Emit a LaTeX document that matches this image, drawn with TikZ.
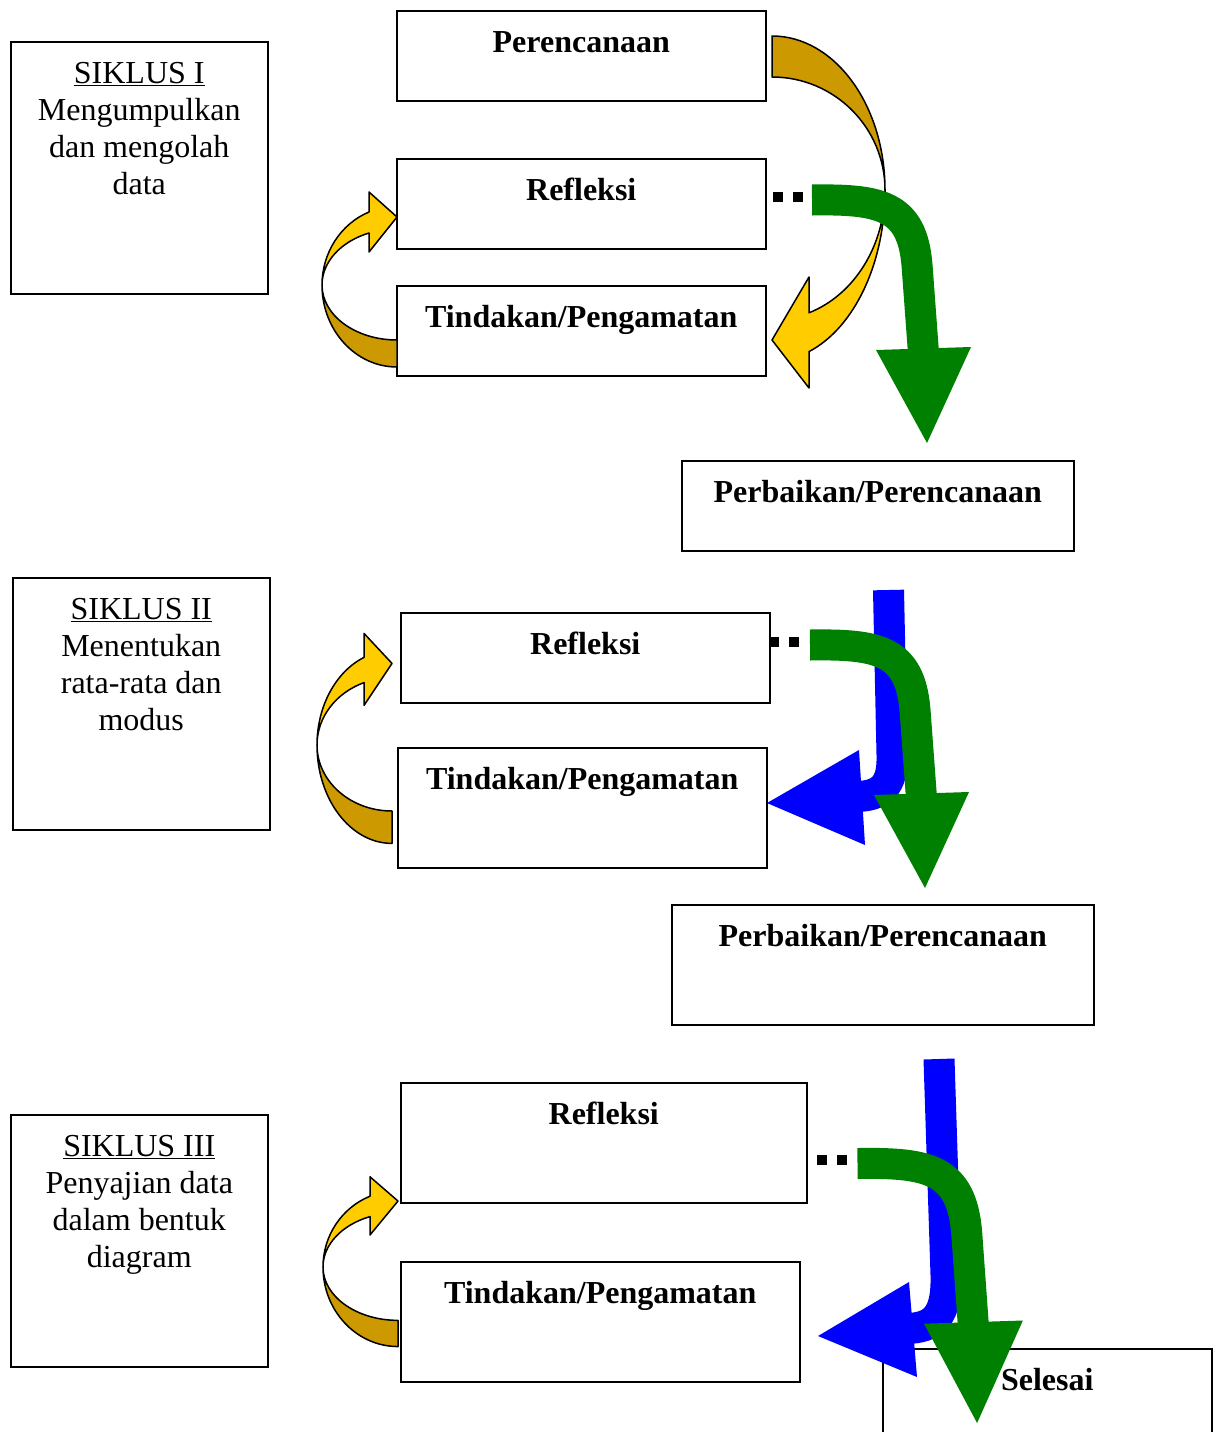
\documentclass[tikz,border=0pt]{standalone}
\usepackage{fontspec}
\setmainfont{Liberation Serif}
\definecolor{gold}{HTML}{CC9900}
\definecolor{sunny}{HTML}{FFCC00}
\definecolor{leaf}{HTML}{008000}
\definecolor{sky}{HTML}{0000FF}
\tikzset{
  box/.style={draw, line width=1.5pt, inner sep=0pt, anchor=north west},
  ribbon/.style={draw, line width=1.5pt, line join=round},
  dots/.style={line width=10pt, dash pattern=on 10pt off 10pt}
}
\newcommand{\boxtext}[3]{\parbox[t][#2pt][t]{#1pt}{\centering\rule{0pt}{42pt}#3}}
\begin{document}
\begin{tikzpicture}[x=1pt, y=-1pt, font=\fontsize{32}{37}\selectfont]
  \useasboundingbox (0,0) rectangle (1217,1432);
  %Cycle boxes
  \node[box] (s1) at (10,41) {\boxtext{257}{252}{\underline{SIKLUS I}\\Mengumpulkan\\dan mengolah\\data}};
  \node[box] (s2) at (12,577) {\boxtext{257}{252}{\underline{SIKLUS II}\\Menentukan\\rata-rata dan\\modus}};
  \node[box] (s3) at (10,1114) {\boxtext{257}{252}{\underline{SIKLUS III}\\Penyajian data\\dalam bentuk\\diagram}};
  %Step boxes
  \node[box] (ren) at (396,10) {\boxtext{369}{90}{\bfseries Perencanaan}};
  \node[box] (ref1) at (396,158) {\boxtext{369}{90}{\bfseries Refleksi}};
  \node[box] (tin1) at (396,285) {\boxtext{369}{90}{\bfseries Tindakan/Pengamatan}};
  \node[box] (per1) at (681,460) {\boxtext{392}{90}{\bfseries Perbaikan/Perencanaan}};
  \node[box] (ref2) at (400,612) {\boxtext{369}{90}{\bfseries Refleksi}};
  \node[box] (tin2) at (397,747) {\boxtext{369}{120}{\bfseries Tindakan/Pengamatan}};
  \node[box] (per2) at (671,904) {\boxtext{422}{120}{\bfseries Perbaikan/Perencanaan}};
  \node[box] (ref3) at (400,1082) {\boxtext{406}{120}{\bfseries Refleksi}};
  \node[box] (tin3) at (400,1261) {\boxtext{399}{120}{\bfseries Tindakan/Pengamatan}};
  \node[box] (sel) at (882,1348) {\boxtext{329}{110}{\bfseries Selesai}};
  %Gold loop, cycle I
  \draw[ribbon, fill=gold] (772,36) .. controls (834.4,36) and (885,104.9) .. (885,190)
    .. controls (885,127.6) and (834.4,77) .. (772,77) -- cycle;
  \draw[ribbon, fill=sunny] (885,190) .. controls (885,262.9) and (854.5,327.7) .. (809,351.6)
    -- (809,388) -- (772,340) -- (809,277) -- (809,312.8)
    .. controls (854.5,294.7) and (885,245.4) .. (885,190) -- cycle;
  %Small gold loops
  \foreach \lx/\ly/\ys in {322/285/1, 317/745/1.2, 323/1267/0.97}{
    \begin{scope}[shift={(\lx,\ly)}, yscale=\ys]
      \draw[ribbon, fill=gold] (0,0) .. controls (0,45.3) and (33.6,82) .. (75,82)
        -- (75,55) .. controls (33.6,55) and (0,30.4) .. (0,0) -- cycle;
      \draw[ribbon, fill=sunny] (0,0) .. controls (0,-32.1) and (18.6,-61.1) .. (47,-73)
        -- (47,-93) -- (75,-68) -- (47,-33) -- (47,-52)
        .. controls (18.6,-43.4) and (0,-22.9) .. (0,0) -- cycle;
    \end{scope}}
  %Blue arrows
  \draw[sky, line width=31pt] (888.5,590) -- (892,755) .. controls (893,785) and (882,796.5) .. (855,796.5);
  \fill[sky] (767,803) -- (859,750) -- (865,845) -- cycle;
  \draw[sky, line width=31pt] (939,1059) -- (946,1275) .. controls (947,1315) and (935,1328.5) .. (905,1328.5);
  \fill[sky] (818,1336) -- (909,1282) -- (917,1377) -- cycle;
  %Green arrows
  \foreach \gx/\gy/\gxs/\gys in {812/200/1/1, 810/645/1/1, 857.5/1163.5/1.04/1.068}{
    \begin{scope}[shift={(\gx,\gy)}, xscale=\gxs, yscale=\gys]
      \draw[leaf, line width=31pt] (0,0) .. controls (68,-1) and (100,5) .. (105,65) -- (112,160);
      \fill[leaf] (64,150) -- (159,147) -- (115,243) -- cycle;
    \end{scope}}
  %Dots
  \foreach \dx/\dy in {773/197, 769/642, 817/1160}
    \draw[dots] (\dx,\dy) -- ++(30,0);
\end{tikzpicture}
\end{document}
